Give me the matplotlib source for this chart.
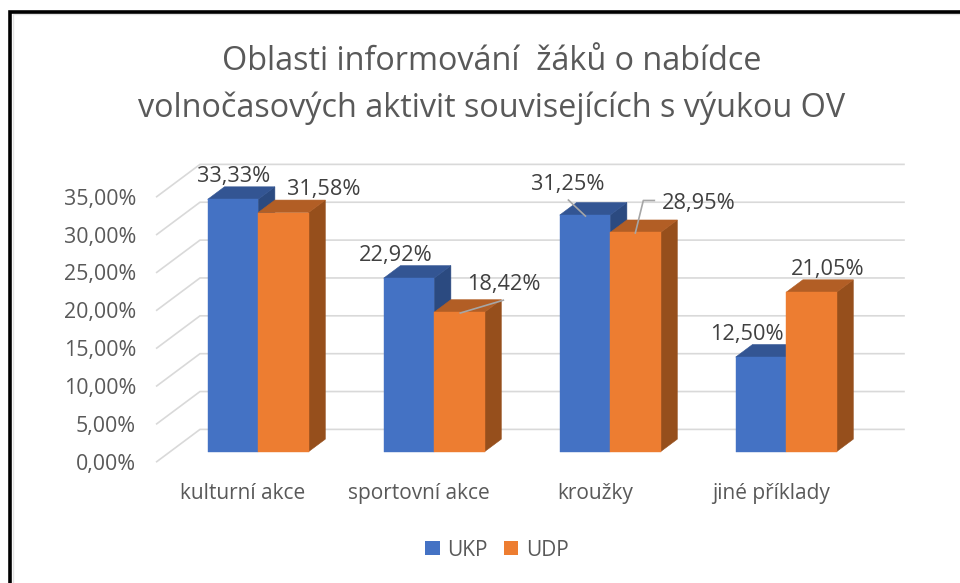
import matplotlib
matplotlib.use("Agg")
import matplotlib.pyplot as plt
from matplotlib.lines import Line2D
from matplotlib.patches import Patch

categories = ["kulturní akce", "sportovní akce", "kroužky", "jiné příklady"]
ukp = [33.33, 22.92, 31.25, 12.50]
udp = [31.58, 18.42, 28.95, 21.05]
series_names = ["UKP", "UDP"]
y_ticks = [0, 5, 10, 15, 20, 25, 30, 35]
title_lines = ["Oblasti informování  žáků o nabídce",
               "volnočasových aktivit souvisejících s výukou OV"]

W, H = 960, 583
FONT = "Open Sans"
TXT = "#595959"
GRID = "#D9D9D9"
PX_X = 176.0      # pixels per category
PX_V = 7.572      # pixels per percent point
DX, DY = 43.3 / PX_X, 32.3 / PX_V   # wall depth in data units
T0, T1 = 0.31, 0.697                # front and back of the bars along the depth
BAR_W = 50.4 / PX_X

fig = plt.figure(figsize=(W / 100, H / 100), dpi=100, facecolor="white")
left, bottom = 156.7, H - 461.7
ax = fig.add_axes([left / W, bottom / H, 4 * PX_X / W, 35 * PX_V / H])
ax.set_xlim(0, 4)
ax.set_ylim(0, 35)
ax.patch.set_visible(False)
for s in ax.spines.values():
    s.set_visible(False)


def proj(x, v, t):
    return x + DX * t, v + DY * t


def off(x, v, px, py):
    return x + px / PX_X, v + py / PX_V


# walls
for v in y_ticks:
    x0, y0 = proj(0, v, 0)
    x1, y1 = proj(0, v, 1)
    x2, y2 = proj(4, v, 1)
    ax.plot([x0, x1, x2], [y0, y1, y2], color=GRID, lw=1.2, clip_on=False, zorder=1,
            solid_joinstyle="miter")

# bars
styles = [("#4472C4", "#335593", "#2B4A80"), ("#ED7D31", "#B25E25", "#964F1C")]
centers = []
for s_i, vals in enumerate([ukp, udp]):
    front, top, side = styles[s_i]
    row = []
    for c_i, v in enumerate(vals):
        xl = c_i + 0.5 - BAR_W + s_i * BAR_W
        xr = xl + BAR_W
        row.append((xl + xr) / 2)
        side_pts = [proj(xr, 0, T0), proj(xr, 0, T1), proj(xr, v, T1), proj(xr, v, T0)]
        top_pts = [proj(xl, v, T0), proj(xr, v, T0), proj(xr, v, T1), proj(xl, v, T1)]
        zz = 2 + s_i * 3
        ax.fill(*zip(*side_pts), facecolor=side, edgecolor=side, lw=0.4, clip_on=False, zorder=zz)
        ax.fill(*zip(*top_pts), facecolor=top, edgecolor=top, lw=0.4, clip_on=False, zorder=zz)
        bx, by = proj(xl, 0, T0)
        ax.bar(bx, v, width=BAR_W, bottom=by, align="edge", color=front, edgecolor=front,
               lw=0.3, clip_on=False, zorder=zz + 1)
    centers.append(row)

# data labels: pixel offset of each label from the top of its bar front
label_off = [[(0.5, 23), (-13.5, 23), (-17.5, 31), (-14.5, 23)],
             [(40, 22.6), (45, 28), (63, 28.5), (16, 23)]]
for s_i, vals in enumerate([ukp, udp]):
    for c_i, v in enumerate(vals):
        bx, by = proj(centers[s_i][c_i], v, T0)
        lx, ly = off(bx, by, *label_off[s_i][c_i])
        ax.text(lx, ly, f"{v:.2f}%".replace(".", ","), ha="center", va="center",
                fontsize=15.7, color="#404040", family=FONT, zorder=20, clip_on=False)

# leader lines: (series, category, pixel path relative to the top of the bar front)
leaders = [(1, 1, [(1, -0.8), (44, 12)]),
           (0, 2, [(0.5, -1), (-16.5, 15)]),
           (1, 2, [(0, -0.5), (8, 32), (19, 32)])]
for s_i, c_i, path in leaders:
    v = [ukp, udp][s_i][c_i]
    bx, by = proj(centers[s_i][c_i], v, T0)
    pts = [off(bx, by, *p) for p in path]
    ax.plot(*zip(*pts), color="#A6A6A6", lw=1.2, clip_on=False, zorder=19)

# axis text
ax.set_yticks(y_ticks)
ax.set_yticklabels([f"{v:.2f}%".replace(".", ",") for v in y_ticks], family=FONT,
                   fontsize=15.4, color=TXT)
ax.set_xticks([i + 0.49 for i in range(len(categories))])
ax.set_xticklabels(categories, family=FONT, fontsize=15, color=TXT)
ax.tick_params(axis="y", length=0, pad=14.9)
ax.tick_params(axis="x", length=0, pad=15.5)

for text, yc in zip(title_lines, [61, 108]):
    fig.text(491.5 / W, 1 - yc / H, text, ha="center", va="center", family=FONT,
             fontsize=23.3, color=TXT)

handles = [Patch(color=styles[i][0], lw=0) for i in range(2)]
fig.legend(handles, series_names, loc="center", bbox_to_anchor=(497 / W, 1 - 550 / H),
           ncol=2, frameon=False, handlelength=0.68, handleheight=0.68, handletextpad=0.38,
           columnspacing=0.75, prop={"family": FONT, "size": 15}, labelcolor=TXT)

# picture frame: pale shadow and black line along the top and left only
fig.add_artist(Line2D([12.6 / W, 12.6 / W, 1], [0, 1 - 14 / H, 1 - 14 / H], color="#E3E3E3",
                      lw=1.0, transform=fig.transFigure, solid_joinstyle="miter"))
fig.add_artist(Line2D([10 / W, 10 / W, 1], [0, 1 - 11.5 / H, 1 - 11.5 / H], color="black",
                      lw=2.6, transform=fig.transFigure, solid_joinstyle="miter"))

fig.savefig("out.png", dpi=100, facecolor="white")
